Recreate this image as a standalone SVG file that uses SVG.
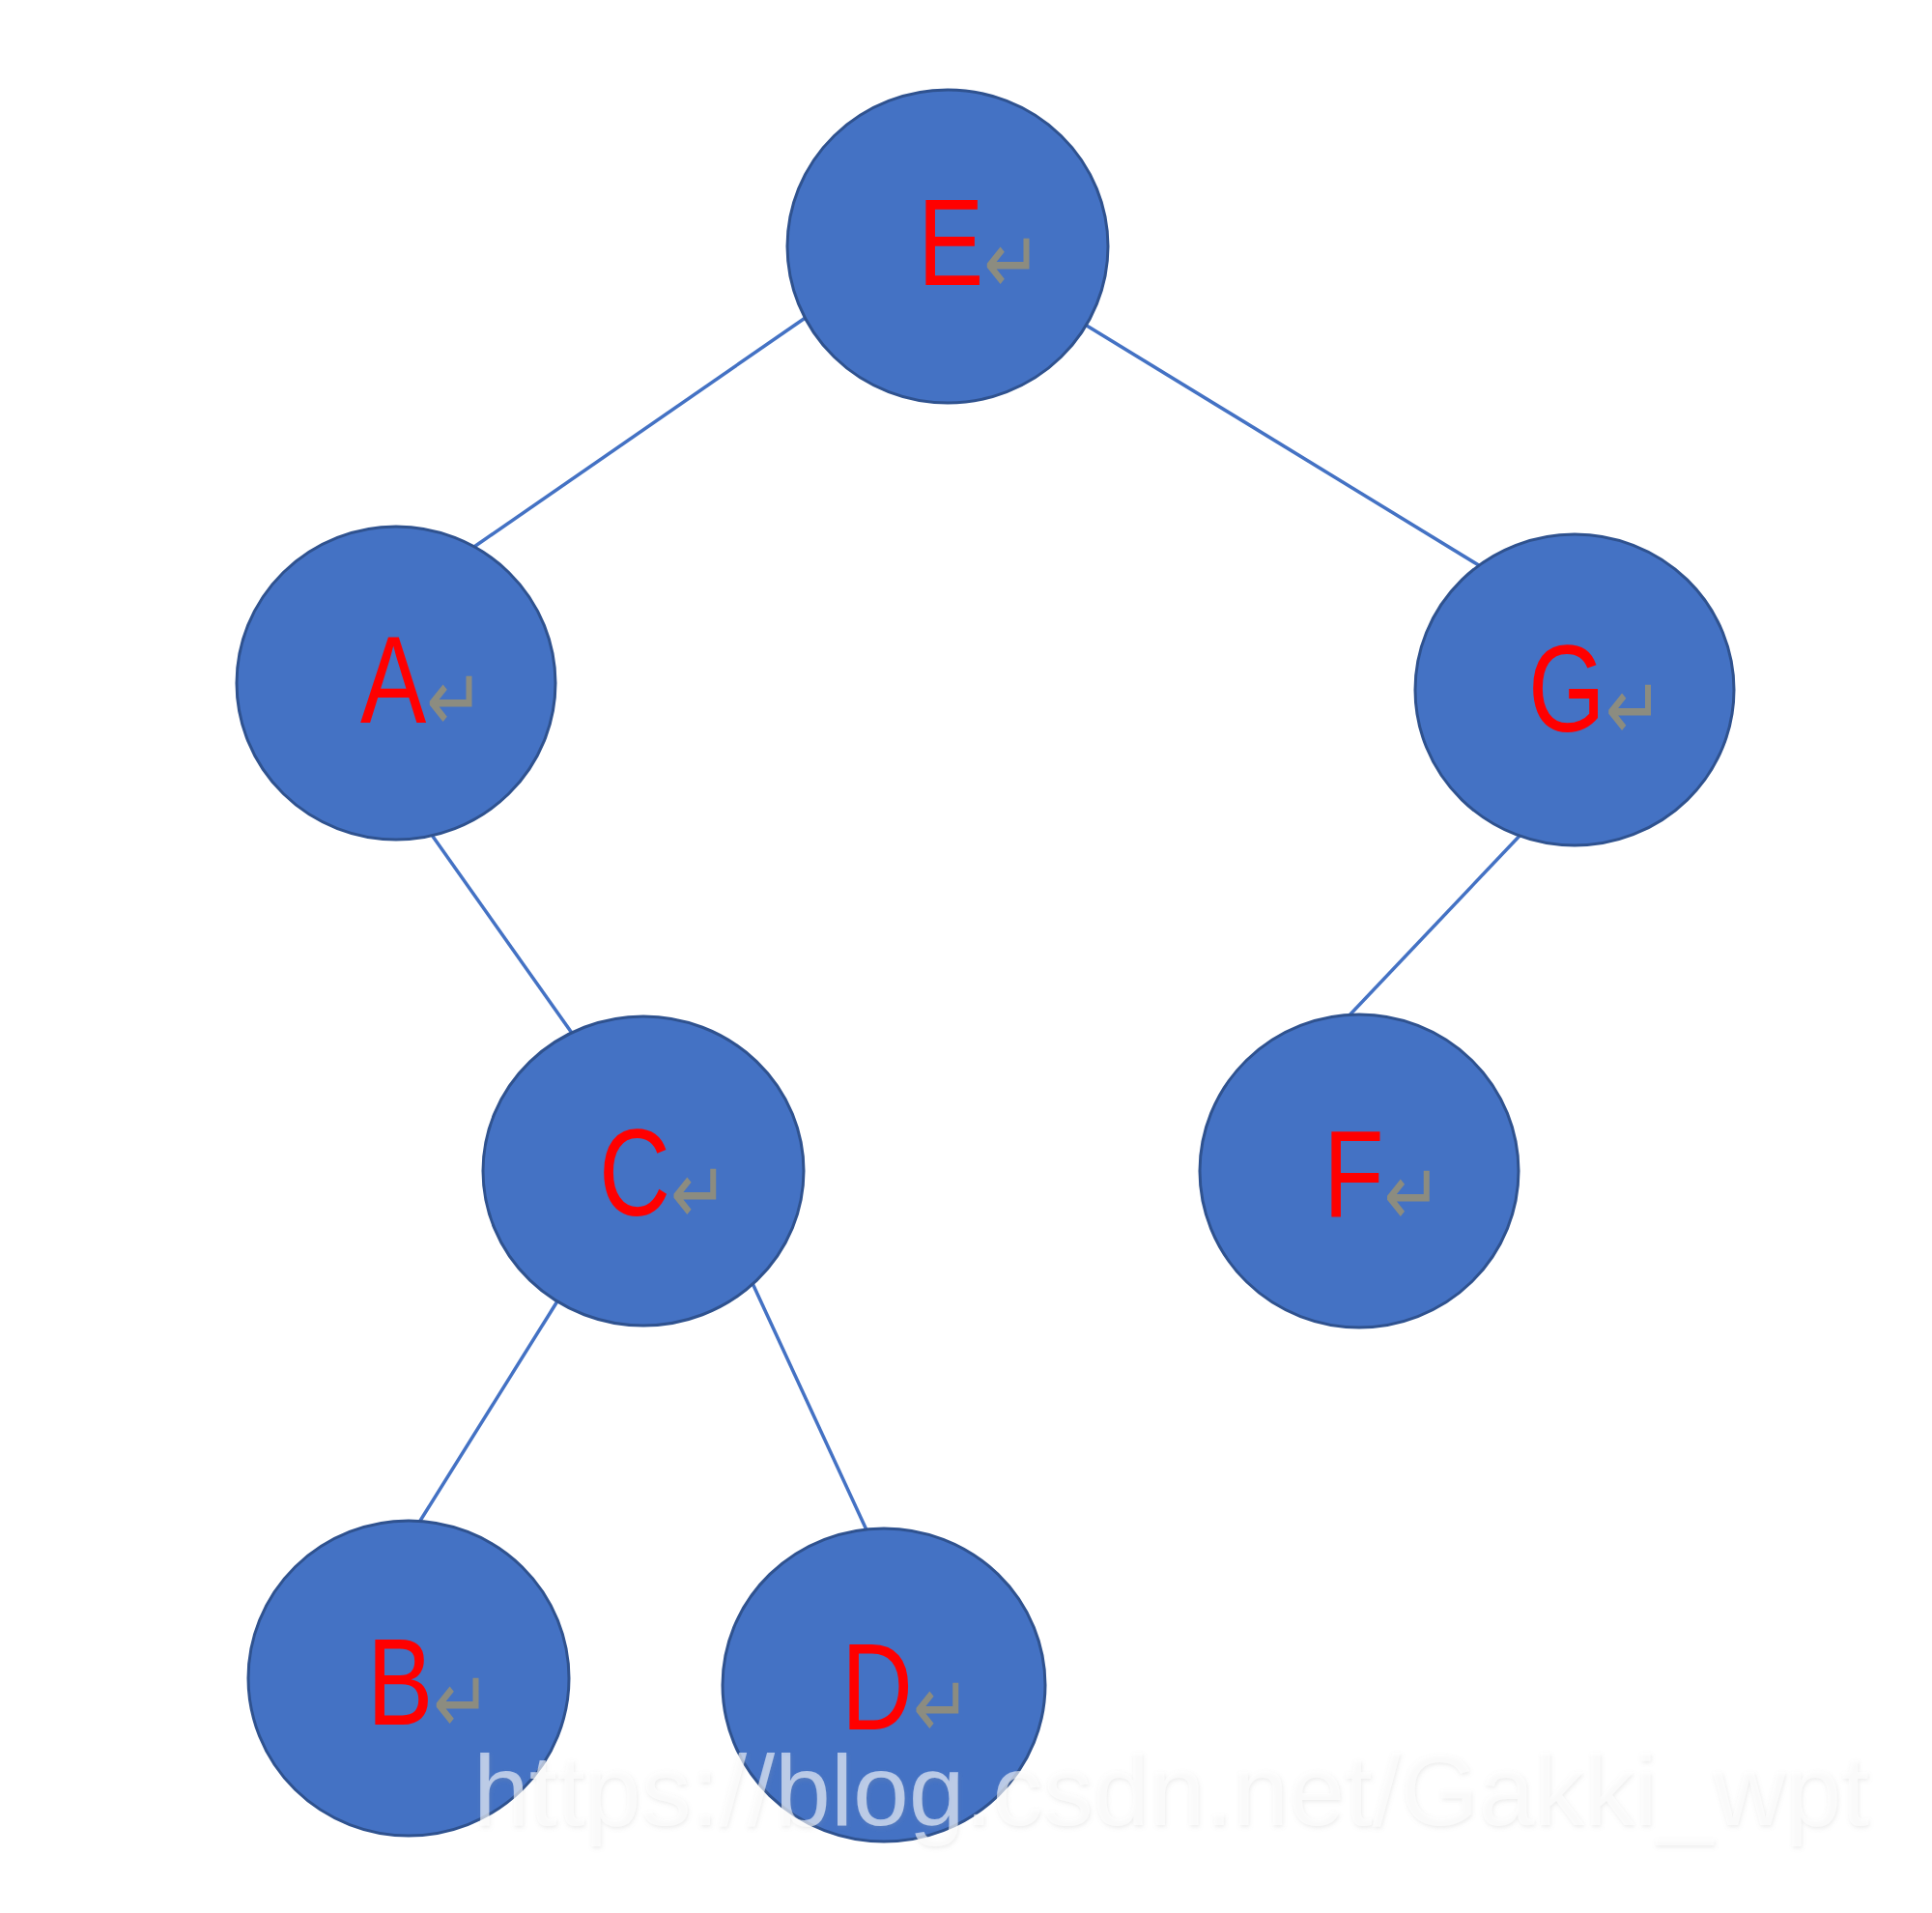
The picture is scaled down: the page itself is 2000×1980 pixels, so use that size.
<svg xmlns="http://www.w3.org/2000/svg" width="2000" height="1980" viewBox="0 0 2000 1980">
<defs>
<style>
.node{fill:#4472C4;stroke:#2F528F;stroke-width:3}
.edge{stroke:#4472C4;stroke-width:3.5;fill:none}
.lbl{font-family:"Liberation Sans",Arial,sans-serif;font-size:128px;fill:#FF0000}
.ret{font-family:"DejaVu Sans",sans-serif;font-size:90px;fill:#8C8C80}
.wm{font-family:"Liberation Sans",Arial,sans-serif;font-size:104px;fill:#ffffff;fill-opacity:0.6}
</style>
<filter id="wmShadow" x="-5%" y="-30%" width="110%" height="160%">
<feDropShadow dx="1" dy="2" stdDeviation="2" flood-color="#9a9a9a" flood-opacity="0.3"/>
</filter>
</defs>
<rect width="2000" height="1980" fill="#ffffff"/>
<g id="edges">
<line class="edge" x1="835" y1="328" x2="485" y2="570"/>
<line class="edge" x1="1120" y1="334" x2="1534" y2="587"/>
<line class="edge" x1="444" y1="860" x2="594" y2="1072"/>
<line class="edge" x1="1576" y1="862" x2="1392" y2="1056"/>
<line class="edge" x1="580" y1="1342" x2="430" y2="1582"/>
<line class="edge" x1="777" y1="1324" x2="900" y2="1590"/>
</g>
<g id="node-E">
<ellipse class="node" cx="981" cy="255" rx="166" ry="162"/>
<text class="lbl" transform="translate(950,295) scale(0.8,1)">E<tspan class="ret" dy="8">↵</tspan></text>
</g>
<g id="node-A">
<ellipse class="node" cx="410" cy="707" rx="165" ry="162"/>
<text class="lbl" transform="translate(373,748) scale(0.8,1)">A<tspan class="ret" dy="8">↵</tspan></text>
</g>
<g id="node-G">
<ellipse class="node" cx="1630" cy="714" rx="165" ry="161"/>
<text class="lbl" transform="translate(1582,757) scale(0.8,1)">G<tspan class="ret" dy="8">↵</tspan></text>
</g>
<g id="node-C">
<ellipse class="node" cx="666" cy="1212" rx="166" ry="160"/>
<text class="lbl" transform="translate(620,1258) scale(0.8,1)">C<tspan class="ret" dy="8">↵</tspan></text>
</g>
<g id="node-F">
<ellipse class="node" cx="1407" cy="1212" rx="165" ry="162"/>
<text class="lbl" transform="translate(1370,1260) scale(0.8,1)">F<tspan class="ret" dy="8">↵</tspan></text>
</g>
<g id="node-B">
<ellipse class="node" cx="423" cy="1737" rx="166" ry="163"/>
<text class="lbl" transform="translate(380,1785) scale(0.8,1)">B<tspan class="ret" dy="8">↵</tspan></text>
</g>
<g id="node-D">
<ellipse class="node" cx="915" cy="1744" rx="167" ry="162"/>
<text class="lbl" transform="translate(871,1790) scale(0.8,1)">D<tspan class="ret" dy="8">↵</tspan></text>
</g>
<text class="wm" x="490" y="1889" textLength="1445" lengthAdjust="spacingAndGlyphs" filter="url(#wmShadow)">https://blog.csdn.net/Gakki_wpt</text>
</svg>
